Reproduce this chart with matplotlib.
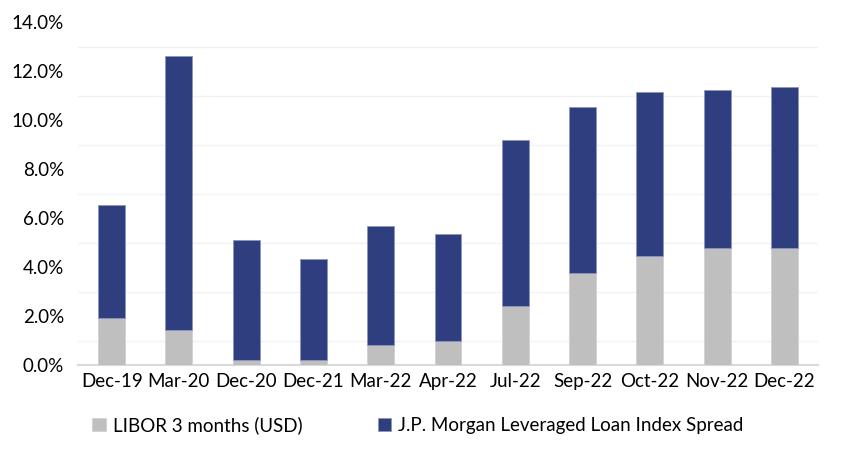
import matplotlib.pyplot as plt
from matplotlib.ticker import FuncFormatter, MultipleLocator
import numpy as np

plt.rcParams['font.family'] = ['Lato', 'DejaVu Sans']

dates = ['Dec-19', 'Mar-20', 'Dec-20', 'Dec-21', 'Mar-22', 'Apr-22',
         'Jul-22', 'Sep-22', 'Oct-22', 'Nov-22', 'Dec-22']
libor = [1.91, 1.43, 0.22, 0.20, 0.80, 0.99, 2.41, 3.74, 4.45, 4.78, 4.76]
spread = [4.62, 11.19, 4.88, 4.13, 4.86, 4.34, 6.76, 6.79, 6.69, 6.44, 6.57]

grey = '#BFBFBF'
navy = '#2F3E7F'

fig = plt.figure(figsize=(8.5, 4.5), dpi=100)
ax = fig.add_axes([78 / 850, 85 / 450, 740 / 850, 343 / 450])

x = np.arange(len(dates))
ax.bar(x, libor, width=0.4, color=grey, edgecolor='#D0D0D8', linewidth=0.6,
       label='LIBOR 3 months (USD)', zorder=3)
ax.bar(x, spread, width=0.4, bottom=libor, color=navy, edgecolor='#8C95BC',
       linewidth=0.6, label='J.P. Morgan Leveraged Loan Index Spread', zorder=3)

ax.set_xlim(-0.5, len(dates) - 0.5)
ax.set_ylim(0, 14)
ax.yaxis.set_major_locator(MultipleLocator(2))
ax.set_yticks(np.arange(1, 14, 2), minor=True)
ax.yaxis.set_major_formatter(FuncFormatter(lambda v, p: f'{v:.1f}%'))
ax.grid(axis='y', which='minor', color='#F2F2F2', linewidth=1, zorder=0)
ax.tick_params(axis='y', which='both', length=0, labelsize=13.5, pad=10)
ax.set_xticks(x)
ax.set_xticklabels(dates)
ax.tick_params(axis='x', length=0, labelsize=13.5, pad=6)

for s in ['top', 'right', 'left']:
    ax.spines[s].set_visible(False)
ax.spines['bottom'].set_color('#D9D9D9')
ax.spines['bottom'].set_linewidth(1.5)

fig.legend(loc='center', bbox_to_anchor=(418 / 850, 1 - 425 / 450), ncol=2,
           frameon=False, fontsize=13.5, handlelength=0.7, handleheight=0.7,
           handletextpad=0.4, columnspacing=4.0)

fig.savefig('out.png', dpi=100)
